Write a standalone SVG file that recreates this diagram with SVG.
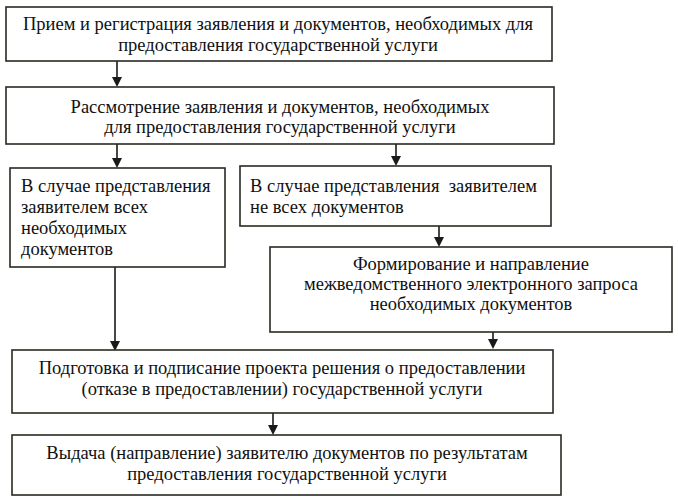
<svg xmlns="http://www.w3.org/2000/svg" width="678" height="501" viewBox="0 0 678 501">
<style>
.box{fill:#fff;stroke:#2a2a22;stroke-width:1.6}
.t{font-family:"Liberation Serif","Times New Roman",serif;font-size:18.5px;fill:#111}
.c{text-anchor:middle}
.ln{stroke:#1a1a1a;stroke-width:1.6;fill:none}
.hd{fill:#1a1a1a;stroke:none}
</style>
<rect width="678" height="501" fill="#fff"/>
<g id="connectors">
<line class="ln" x1="117" y1="61" x2="117" y2="78"/><path class="hd" d="M112,77 L122,77 L117,87 Z"/>
<line class="ln" x1="117" y1="144" x2="117" y2="159"/><path class="hd" d="M112,158 L122,158 L117,168 Z"/>
<line class="ln" x1="396" y1="142" x2="396" y2="157"/><path class="hd" d="M391,156 L401,156 L396,166 Z"/>
<line class="ln" x1="439" y1="226" x2="439" y2="238"/><path class="hd" d="M434,237 L444,237 L439,247 Z"/>
<line class="ln" x1="115" y1="267" x2="115" y2="342"/><path class="hd" d="M110,341 L120,341 L115,351 Z"/>
<line class="ln" x1="493" y1="332" x2="493" y2="340"/><path class="hd" d="M488,339 L498,339 L493,349 Z"/>
<line class="ln" x1="273" y1="413" x2="273" y2="426"/><path class="hd" d="M268,425 L278,425 L273,435 Z"/>
</g>
<g id="n1">
<rect class="box" x="6" y="7" width="546" height="54"/>
<text class="t c" x="278" y="30">Прием и регистрация заявления и документов, необходимых для</text>
<text class="t c" x="278" y="51">предоставления государственной услуги</text>
</g>
<g id="n2">
<rect class="box" x="6" y="87" width="548" height="57"/>
<text class="t c" x="280" y="113">Рассмотрение заявления и документов, необходимых</text>
<text class="t c" x="280" y="133">для предоставления государственной услуги</text>
</g>
<g id="n3">
<rect class="box" x="10" y="168" width="215" height="99"/>
<text class="t" x="21" y="192">В случае представления</text>
<text class="t" x="21" y="213">заявителем всех</text>
<text class="t" x="21" y="234">необходимых</text>
<text class="t" x="21" y="255">документов</text>
</g>
<g id="n4">
<rect class="box" x="240" y="166" width="311" height="60"/>
<text class="t" x="250" y="192" xml:space="preserve">В случае представления  заявителем</text>
<text class="t" x="250" y="213">не всех документов</text>
</g>
<g id="n5">
<rect class="box" x="270" y="247" width="402" height="85"/>
<text class="t c" x="471" y="270">Формирование и направление</text>
<text class="t c" x="471" y="290">межведомственного электронного запроса</text>
<text class="t c" x="471" y="310">необходимых документов</text>
</g>
<g id="n6">
<rect class="box" x="12" y="350" width="541" height="63"/>
<text class="t c" x="282" y="374">Подготовка и подписание проекта решения о предоставлении</text>
<text class="t c" x="282" y="395">(отказе в предоставлении) государственной услуги</text>
</g>
<g id="n7">
<rect class="box" x="12" y="435" width="549" height="60"/>
<text class="t c" x="287" y="459">Выдача (направление) заявителю документов по результатам</text>
<text class="t c" x="287" y="480">предоставления государственной услуги</text>
</g>
</svg>
